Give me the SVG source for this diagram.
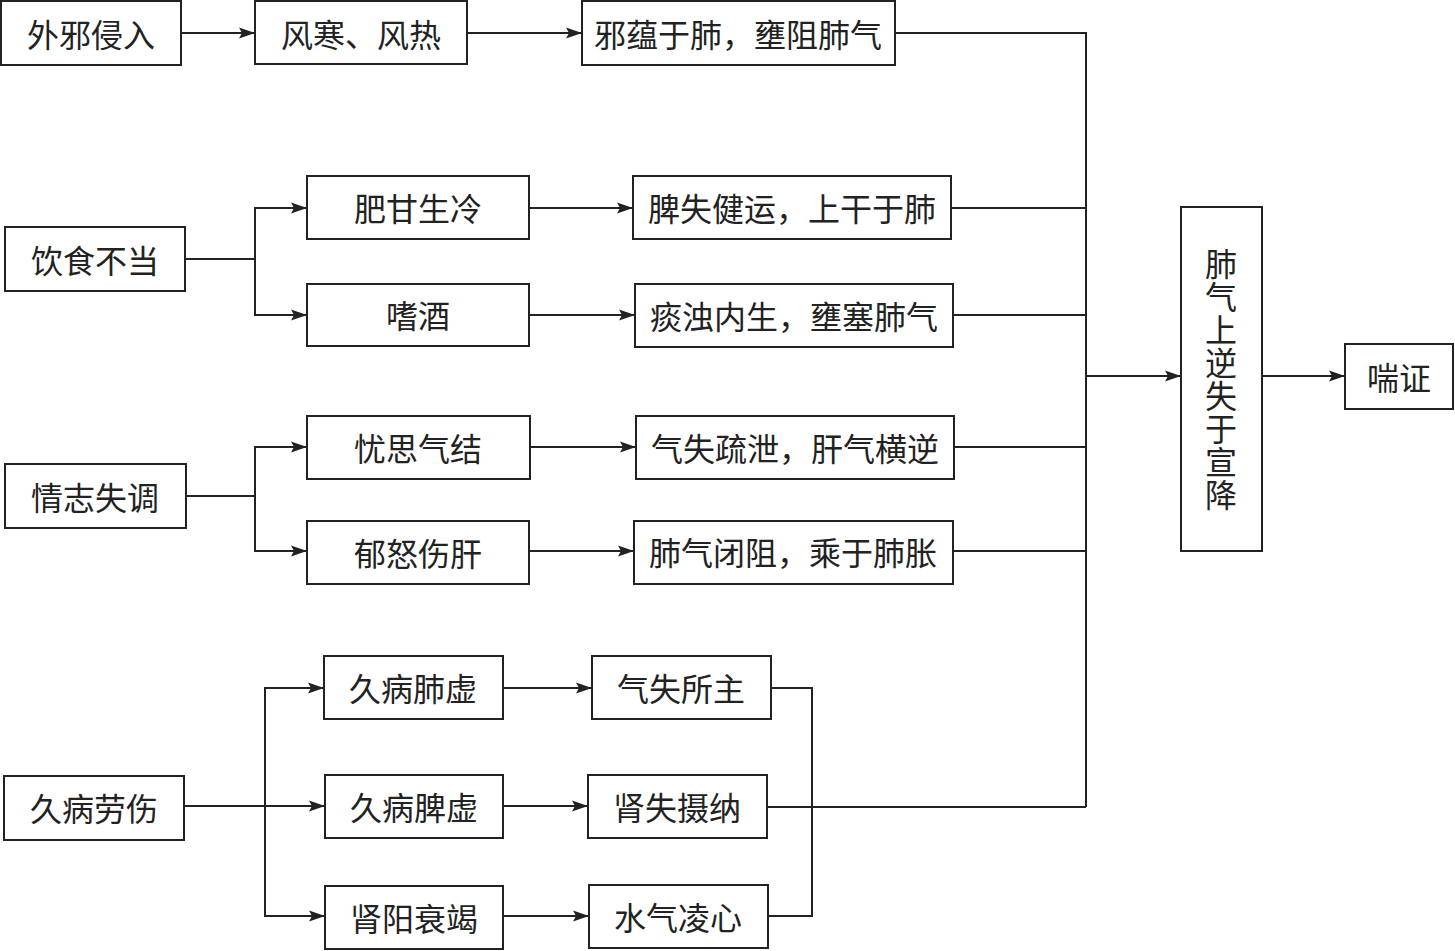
<svg xmlns="http://www.w3.org/2000/svg" width="1455" height="951" viewBox="0 0 1455 951">
<style>
.box{fill:#fff;stroke:#222;stroke-width:2}
.t{font-family:"Noto Sans CJK SC","Noto Sans",sans-serif;font-size:32px;fill:#222;text-anchor:middle;dominant-baseline:central}
.v{writing-mode:vertical-rl;letter-spacing:1px;dominant-baseline:auto}
.c{fill:none;stroke:#222;stroke-width:2}
.a{marker-end:url(#arr)}
</style>
<defs>
<marker id="arr" markerUnits="userSpaceOnUse" markerWidth="17" markerHeight="12" refX="16" refY="6" orient="auto">
<path d="M0,0.5 L16,6 L0,11.5 L3,6 z" fill="#222"/>
</marker>
</defs>
<rect width="1455" height="951" fill="#fff"/>
<g id="connectors">
<path class="c a" d="M181,33 H255"/>
<path class="c a" d="M467,33 H582"/>
<path class="c" d="M895,33 H1086 V807"/>
<path class="c" d="M185,259 H255"/>
<path class="c a" d="M255,259 V208 H307"/>
<path class="c a" d="M255,259 V315 H307"/>
<path class="c a" d="M529,208 H633"/>
<path class="c a" d="M529,315 H635"/>
<path class="c" d="M951,208 H1086"/>
<path class="c" d="M953,315 H1086"/>
<path class="c" d="M186,496 H255"/>
<path class="c a" d="M255,496 V447 H307"/>
<path class="c a" d="M255,496 V551 H307"/>
<path class="c a" d="M530,447 H636"/>
<path class="c a" d="M529,551 H634"/>
<path class="c" d="M954,447 H1086"/>
<path class="c" d="M953,551 H1086"/>
<path class="c a" d="M184,806 H325"/>
<path class="c a" d="M265,806 V688 H324"/>
<path class="c a" d="M265,806 V916 H325"/>
<path class="c a" d="M503,688 H592"/>
<path class="c a" d="M503,806 H588"/>
<path class="c a" d="M503,916 H589"/>
<path class="c" d="M771,688 H812 V916 H768"/>
<path class="c" d="M767,807 H1086"/>
<path class="c a" d="M1086,376 H1181"/>
<path class="c a" d="M1262,376 H1345"/>
</g>
<g id="n1"><rect class="box" x="1" y="1" width="180" height="64"/><text class="t" x="91" y="33">外邪侵入</text></g>
<g id="n2"><rect class="box" x="255" y="1" width="212" height="63"/><text class="t" x="361" y="33">风寒、风热</text></g>
<g id="n3"><rect class="box" x="582" y="1" width="313" height="64"/><text class="t" x="738" y="33">邪蕴于肺，壅阻肺气</text></g>
<g id="n4"><rect class="box" x="5" y="227" width="180" height="64"/><text class="t" x="95" y="259">饮食不当</text></g>
<g id="n5"><rect class="box" x="307" y="176" width="222" height="63"/><text class="t" x="418" y="207">肥甘生冷</text></g>
<g id="n6"><rect class="box" x="307" y="284" width="222" height="62"/><text class="t" x="418" y="314">嗜酒</text></g>
<g id="n7"><rect class="box" x="633" y="176" width="318" height="63"/><text class="t" x="792" y="207">脾失健运，上干于肺</text></g>
<g id="n8"><rect class="box" x="635" y="284" width="318" height="63"/><text class="t" x="794" y="315">痰浊内生，壅塞肺气</text></g>
<g id="n9"><rect class="box" x="5" y="464" width="181" height="64"/><text class="t" x="95" y="496">情志失调</text></g>
<g id="n10"><rect class="box" x="307" y="416" width="223" height="63"/><text class="t" x="418" y="447">忧思气结</text></g>
<g id="n11"><rect class="box" x="307" y="521" width="222" height="63"/><text class="t" x="418" y="552">郁怒伤肝</text></g>
<g id="n12"><rect class="box" x="636" y="416" width="318" height="63"/><text class="t" x="795" y="447">气失疏泄，肝气横逆</text></g>
<g id="n13"><rect class="box" x="634" y="521" width="319" height="63"/><text class="t" x="793" y="551">肺气闭阻，乘于肺胀</text></g>
<g id="n14"><rect class="box" x="4" y="776" width="180" height="64"/><text class="t" x="94" y="807">久病劳伤</text></g>
<g id="n15"><rect class="box" x="324" y="656" width="179" height="63"/><text class="t" x="413" y="687">久病肺虚</text></g>
<g id="n16"><rect class="box" x="325" y="775" width="178" height="63"/><text class="t" x="414" y="806">久病脾虚</text></g>
<g id="n17"><rect class="box" x="325" y="886" width="178" height="63"/><text class="t" x="414" y="917">肾阳衰竭</text></g>
<g id="n18"><rect class="box" x="592" y="656" width="179" height="63"/><text class="t" x="681" y="687">气失所主</text></g>
<g id="n19"><rect class="box" x="588" y="775" width="179" height="63"/><text class="t" x="677" y="806">肾失摄纳</text></g>
<g id="n20"><rect class="box" x="589" y="885" width="179" height="63"/><text class="t" x="678" y="916">水气凌心</text></g>
<g id="n21"><rect class="box" x="1181" y="207" width="81" height="344"/><text class="t v" x="1221" y="380">肺气上逆失于宣降</text></g>
<g id="n22"><rect class="box" x="1345" y="344" width="108" height="65"/><text class="t" x="1399" y="376">喘证</text></g>
</svg>
